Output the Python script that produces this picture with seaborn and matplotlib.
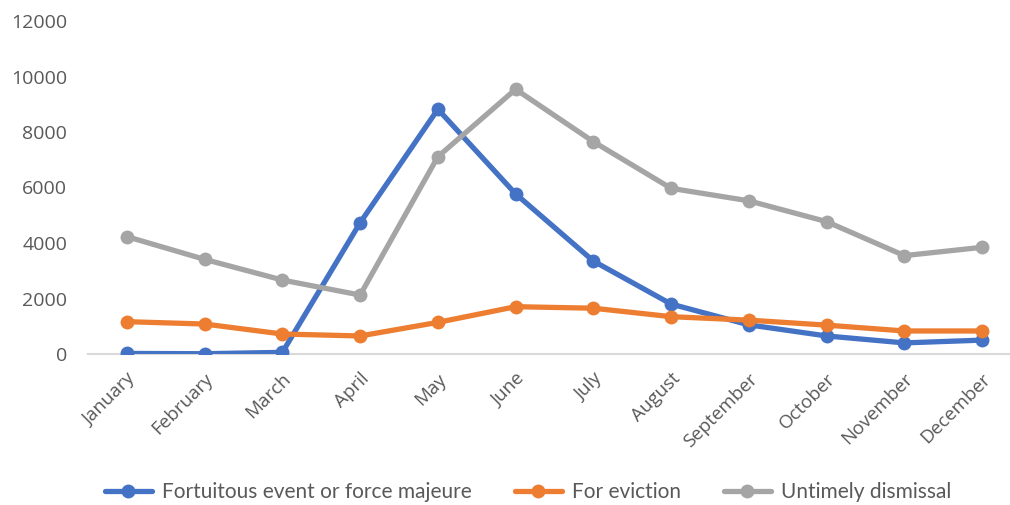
import matplotlib
matplotlib.use("Agg")
import matplotlib.pyplot as plt
import matplotlib.transforms as mtransforms
import seaborn as sns
import pandas as pd

months = ["January", "February", "March", "April", "May", "June", "July",
          "August", "September", "October", "November", "December"]
force_majeure = [20, 10, 60, 4730, 8820, 5770, 3350, 1800, 1050, 650, 400, 500]
eviction = [1165, 1080, 720, 650, 1140, 1705, 1650, 1345, 1220, 1040, 830, 830]
untimely = [4230, 3410, 2665, 2125, 7110, 9540, 7650, 5970, 5520, 4770, 3545, 3845]
series_names = ["Fortuitous event or force majeure", "For eviction", "Untimely dismissal"]
colors = ["#4472C4", "#ED7D31", "#A5A5A5"]
y_ticks = [0, 2000, 4000, 6000, 8000, 10000, 12000]

df = pd.concat([
    pd.DataFrame({"month": months, "value": vals, "series": name})
    for name, vals in zip(series_names, [force_majeure, eviction, untimely])
])

sns.set_theme(style="white")
plt.rcParams["font.family"] = ["Open Sans", "DejaVu Sans"]

fig = plt.figure(figsize=(10.10, 5.05), dpi=100)
# axes extend past the right edge of the canvas
ax = fig.add_axes([88 / 1010, 1 - 354 / 505, (1021 - 88) / 1010, (354 - 21) / 505])

sns.lineplot(data=df, x="month", y="value", hue="series", palette=colors,
             marker="o", markersize=10, markeredgewidth=0, linewidth=3.8,
             sort=False, ax=ax, legend=False)

ax.set_xlim(-0.5, 11.5)
ax.set_ylim(0, 12000)
ax.set_yticks(y_ticks)
ax.set_yticklabels([str(v) for v in y_ticks])
ax.set_xlabel("")
ax.set_ylabel("")

for side in ["top", "right", "left"]:
    ax.spines[side].set_visible(False)
ax.spines["bottom"].set_color("#D9D9D9")
ax.spines["bottom"].set_linewidth(1.5)
ax.spines["bottom"].set_zorder(0)
ax.grid(False)

ax.tick_params(axis="y", length=0, pad=15, labelsize=14, labelcolor="#595959")
ax.tick_params(axis="x", length=0, pad=16, labelsize=13.5, labelcolor="#595959")
shift = mtransforms.ScaledTranslation(6 / 100, 0, fig.dpi_scale_trans)
for lbl in ax.get_xticklabels():
    lbl.set_rotation(45)
    lbl.set_ha("right")
    lbl.set_va("center")
    lbl.set_rotation_mode("anchor")
    lbl.set_transform(lbl.get_transform() + shift)

handles = [plt.Line2D([], [], color=c, lw=3.8, marker="o", markersize=10,
                      markeredgewidth=0) for c in colors]
fig.legend(handles, series_names, loc="lower center", ncol=3, frameon=False,
           bbox_to_anchor=(0.523, -0.032), labelcolor="#595959",
           handlelength=2.25, columnspacing=2.05, handletextpad=0.5,
           prop={"family": ["Lato", "DejaVu Sans"], "size": 15})

fig.savefig("out.png", dpi=100, facecolor="white")
